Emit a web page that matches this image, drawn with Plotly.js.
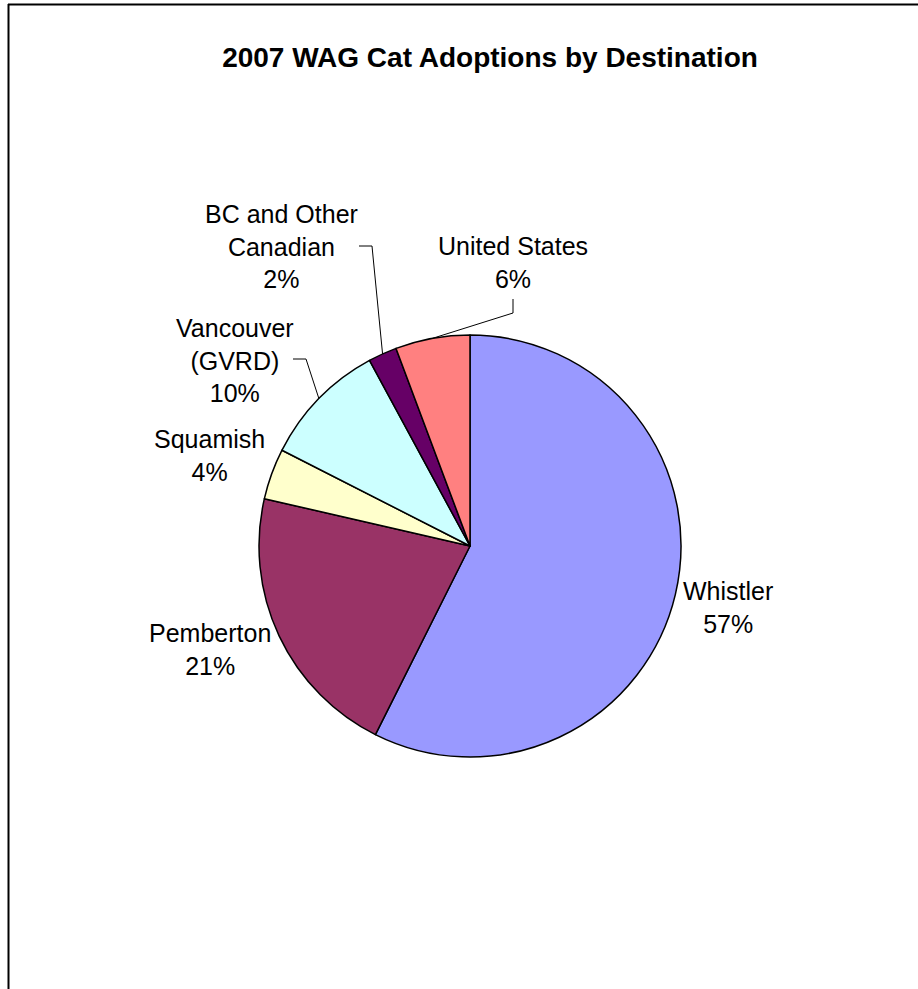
<!DOCTYPE html>
<html>
<head>
<meta charset="utf-8">
<script src="https://cdn.plot.ly/plotly-3.0.1.min.js"></script>
<style>html,body{margin:0;padding:0;background:#fff;}#chart{width:918px;height:989px;}</style>
</head>
<body>
<div id="chart"></div>
<script>
// ---- data ----
const categories = ["Whistler", "Pemberton", "Squamish", "Vancouver<br>(GVRD)", "BC and Other<br>Canadian", "United States"];
const shares = [57.4, 21.2, 3.9, 9.6, 2.2, 5.7];
const sliceColors = ["#9999FF", "#993366", "#FFFFCC", "#CCFFFF", "#660066", "#FF8080"];

// ---- layout helpers (pixels -> paper) ----
const W = 918, H = 989;
const px = x => x / W;
const py = y => 1 - y / H;
const cx = 470, cy = 546, R = 211;

// label block centres (layout, px) and leader line routes (start, elbow)
const labelCenters = [[728, 607], [210, 649], [209, 455], [235, 360], [281, 246], [513, 262]];
const leaders = [null, null, null, [[293, 359], [306, 359]], [[359, 246], [372, 246]], [[513, 299], [513, 313]]];

const total = shares.reduce((a, b) => a + b, 0);
let cum = 0;
const midAngles = shares.map(v => { const m = (cum + v / 2) / total * 2 * Math.PI; cum += v; return m; });

const annotations = categories.map((c, i) => ({
  x: px(labelCenters[i][0]), y: py(labelCenters[i][1]), xref: 'paper', yref: 'paper',
  xanchor: 'center', yanchor: 'middle', showarrow: false, align: 'center',
  text: c + '<br>' + Math.round(shares[i] / total * 100) + '%',
  font: {family: 'Liberation Sans, Arial, sans-serif', size: 25, color: '#000'}
}));

const shapes = [];
leaders.forEach((l, i) => {
  if (!l) return;
  const ex = cx + R * Math.sin(midAngles[i]);
  const ey = cy - R * Math.cos(midAngles[i]);
  const pts = [l[0], l[1], [ex, ey]];
  const path = 'M ' + pts.map(p => px(p[0]) + ',' + py(p[1])).join(' L ');
  shapes.push({type: 'path', xref: 'paper', yref: 'paper', path: path, line: {color: '#000', width: 1}});
});
// chart-area border (top and left visible)
shapes.push({type: 'line', xref: 'paper', yref: 'paper', x0: px(8), x1: 1, y0: py(4.5), y1: py(4.5), line: {color: '#000', width: 2}});
shapes.push({type: 'line', xref: 'paper', yref: 'paper', x0: px(8.5), x1: px(8.5), y0: py(4), y1: 0, line: {color: '#000', width: 2}});

const trace = {
  type: 'pie', labels: categories, values: shares, sort: false, direction: 'clockwise', rotation: 0,
  marker: {colors: sliceColors, line: {color: '#000', width: 1.5}},
  textinfo: 'none', hoverinfo: 'label+percent', showlegend: false,
  domain: {x: [px(cx - R), px(cx + R)], y: [py(cy + R), py(cy - R)]}
};

const layout = {
  width: W, height: H, margin: {l: 0, r: 0, t: 0, b: 0},
  paper_bgcolor: '#fff', plot_bgcolor: '#fff', showlegend: false,
  title: {text: '<b>2007 WAG Cat Adoptions by Destination</b>', x: px(490), xanchor: 'center', y: py(57), yanchor: 'middle',
          font: {family: 'Liberation Sans, Arial, sans-serif', size: 28, color: '#000'}},
  annotations: annotations, shapes: shapes
};
Plotly.newPlot('chart', [trace], layout, {staticPlot: true, displayModeBar: false});
</script>
</body>
</html>
